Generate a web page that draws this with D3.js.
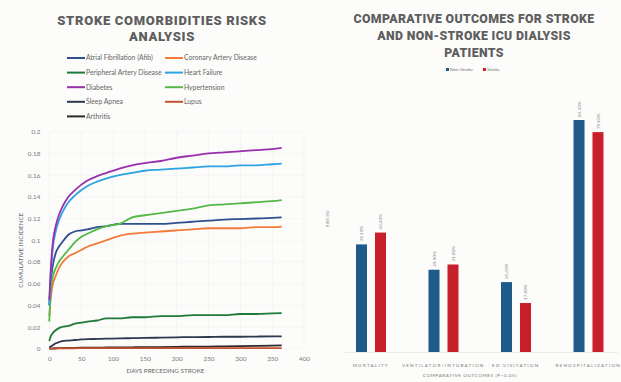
<!DOCTYPE html>
<html><head><meta charset="utf-8">
<script src="https://cdn.jsdelivr.net/npm/d3@7"></script>
<style>
html,body{margin:0;padding:0;background:#fcfcfb;}
svg{display:block;font-family:Lato,"Open Sans",sans-serif;}
</style></head>
<body>
<svg id="c" width="621" height="382"></svg>
<script>
// ---------- Left chart data ----------
const days = [0,2,5,10,15,20,30,40,50,60,75,90,110,130,150,175,200,225,250,275,300,325,350,365];
const seriesNames = ["Atrial Fibrillation (Afib)","Coronary Artery Disease","Peripheral Artery Disease","Heart Failure","Diabetes","Hypertension","Sleep Apnea","Lupus","Arthritis"];
const seriesColors = ["#2f4f8f","#f47a3a","#1f7a3a","#2ea3e3","#9a2fae","#55b948","#2d3950","#c4532d","#2a2a2a"];
const afib = [0.04,0.06,0.075,0.088,0.094,0.098,0.105,0.108,0.109,0.110,0.112,0.113,0.115,0.115,0.115,0.115,0.116,0.117,0.118,0.119,0.1195,0.120,0.1205,0.121];
const cad = [0.03,0.045,0.058,0.067,0.074,0.079,0.085,0.088,0.091,0.094,0.097,0.100,0.104,0.106,0.107,0.108,0.109,0.110,0.111,0.111,0.111,0.112,0.112,0.1125];
const pad = [0.007,0.011,0.014,0.017,0.019,0.020,0.021,0.023,0.024,0.025,0.026,0.028,0.028,0.029,0.029,0.030,0.030,0.031,0.031,0.031,0.032,0.032,0.0325,0.0328];
const hf = [0.04,0.065,0.09,0.108,0.118,0.125,0.135,0.141,0.146,0.150,0.154,0.157,0.160,0.162,0.164,0.165,0.166,0.167,0.168,0.168,0.169,0.169,0.170,0.1705];
const diabetes = [0.045,0.07,0.095,0.113,0.123,0.130,0.140,0.146,0.151,0.155,0.159,0.162,0.166,0.169,0.171,0.173,0.176,0.178,0.180,0.181,0.182,0.183,0.184,0.185];
const hypertension = [0.025,0.05,0.065,0.074,0.080,0.084,0.091,0.098,0.103,0.106,0.110,0.113,0.115,0.121,0.123,0.125,0.127,0.129,0.132,0.133,0.134,0.135,0.136,0.137];
const sleepApnea = [0.001,0.002,0.003,0.005,0.006,0.007,0.0075,0.008,0.0085,0.0088,0.009,0.0092,0.0095,0.0097,0.0099,0.0102,0.0105,0.0107,0.0108,0.011,0.011,0.0112,0.0113,0.0114];
const lupus = [0,0,0,0.0002,0.0003,0.0003,0.0004,0.0004,0.0005,0.0005,0.0005,0.0005,0.0005,0.0005,0.0005,0.0005,0.0005,0.0006,0.0006,0.0006,0.0006,0.0006,0.0006,0.0006];
const arthritis = [0,0,0.0002,0.0004,0.0005,0.0006,0.0007,0.0008,0.0009,0.001,0.001,0.0011,0.0012,0.0013,0.0014,0.0015,0.0017,0.0019,0.002,0.0022,0.0024,0.0026,0.0028,0.003];
const seriesValues = [afib,cad,pad,hf,diabetes,hypertension,sleepApnea,lupus,arthritis];
const yTicksLeft = [0,0.02,0.04,0.06,0.08,0.1,0.12,0.14,0.16,0.18,0.2];
const xTicksLeft = [0,50,100,150,200,250,300,350,400];

// ---------- Right chart data ----------
const outcomes = ["MORTALITY","VENTILATOR/INTUBATION","ED VISITATION","REHOSPITALIZATION"];
const groups = ["Non-Stroke","Stroke"];
const groupColors = ["#1f5b8a","#c8202a"];
const nonStroke = [39.1, 29.9, 25.4, 84.3];
const stroke = [43.4, 31.8, 17.8, 79.9];

const svg = d3.select("#c");

// ================= LEFT =================
const title1 = ["STROKE COMORBIDITIES RISKS","ANALYSIS"];
svg.append("g").selectAll("text").data(title1).join("text")
  .attr("x",162).attr("y",(d,i)=>25+i*16).attr("text-anchor","middle")
  .attr("font-family","Roboto").attr("font-weight",900).attr("font-size",13)
  .attr("letter-spacing",0.7).attr("fill","#5e5e5e").text(d=>d);

// legend
const leg = svg.append("g");
seriesNames.forEach((n,i)=>{
  const col = i%2, row = Math.floor(i/2);
  const x = 67 + col*98, y = 58 + row*14.6;
  leg.append("line").attr("x1",x).attr("x2",x+18).attr("y1",y).attr("y2",y)
    .attr("stroke",seriesColors[i]).attr("stroke-width",2);
  leg.append("text").attr("x",x+19).attr("y",y+2.3).attr("font-size",6.8)
    .attr("fill","#666").text(n);
});

const xL = d3.scaleLinear().domain([0,400]).range([49.3,304]);
const yL = d3.scaleLinear().domain([0,0.2]).range([348.7,131.7]);

const gridL = svg.append("g");
gridL.selectAll("line.v").data(xTicksLeft).join("line")
  .attr("x1",d=>xL(d)).attr("x2",d=>xL(d)).attr("y1",yL(0.2)).attr("y2",yL(0))
  .attr("stroke","#f1f1f1").attr("stroke-width",0.8);
gridL.selectAll("line.h").data(yTicksLeft).join("line")
  .attr("x1",xL(0)).attr("x2",xL(400)).attr("y1",d=>yL(d)).attr("y2",d=>yL(d))
  .attr("stroke","#f4f4f4").attr("stroke-width",0.8);

const yAxL = svg.append("g").attr("transform",`translate(${xL(0)-6},0)`)
  .call(d3.axisLeft(yL).tickValues(yTicksLeft).tickSize(0).tickFormat(d=>d===0?"0":d3.format("~g")(d)));
yAxL.select(".domain").remove();
yAxL.selectAll("text").attr("font-size",6.3).attr("fill","#777").attr("font-family","Lato");

const xAxL = svg.append("g").attr("transform",`translate(0,${yL(0)+5})`)
  .call(d3.axisBottom(xL).tickValues(xTicksLeft).tickSize(0));
xAxL.select(".domain").remove();
xAxL.selectAll("text").attr("font-size",6.3).attr("fill","#777").attr("font-family","Lato");

svg.append("text").attr("x",(xL(0)+xL(365))/2).attr("y",373).attr("text-anchor","middle")
  .attr("font-size",6.3).attr("fill","#666").text("DAYS PRECEDING STROKE");
svg.append("text").attr("transform",`translate(23,${(yL(0)+yL(0.2))/2+10}) rotate(-90)`)
  .attr("text-anchor","middle").attr("font-size",6.3).attr("fill","#666").text("CUMULATIVE INCIDENCE");

const lineGen = d3.line().x((d,i)=>xL(days[i])).y(d=>yL(d)).curve(d3.curveMonotoneX);
const drawOrder = [8,7,6,2,1,0,5,3,4];
svg.append("g").selectAll("path").data(drawOrder).join("path")
  .attr("d",i=>lineGen(seriesValues[i])).attr("fill","none")
  .attr("stroke",i=>seriesColors[i]).attr("stroke-width",1.8);

// ================= RIGHT =================
const title2 = ["COMPARATIVE OUTCOMES FOR STROKE","AND NON-STROKE ICU DIALYSIS","PATIENTS"];
svg.append("g").selectAll("text").data(title2).join("text")
  .attr("x",474).attr("y",(d,i)=>23+i*17).attr("text-anchor","middle")
  .attr("font-family","Roboto").attr("font-weight",900).attr("font-size",12.3)
  .attr("letter-spacing",0.35).attr("fill","#5e5e5e").text(d=>d);

// legend
const leg2 = svg.append("g");
groups.forEach((g,i)=>{
  const x = 446 + i*37;
  leg2.append("rect").attr("x",x).attr("y",68).attr("width",3).attr("height",3).attr("fill",groupColors[i]);
  leg2.append("text").attr("x",x+4).attr("y",71).attr("font-size",4.6).attr("fill","#777").text(g);
});

const x0 = d3.scaleBand().domain(outcomes).range([334.5,624.5]);
const x1 = d3.scaleBand().domain(groups).range([21.5,51.5]).paddingInner(0.42);
const yR = d3.scaleLinear().domain([0,100]).range([352,352-275.2]);

svg.append("line").attr("x1",345).attr("x2",618).attr("y1",yR(0)+0.5).attr("y2",yR(0)+0.5)
  .attr("stroke","#e6e6e6").attr("stroke-width",0.8);

const rows = outcomes.map((o,i)=>({o, vals:[nonStroke[i],stroke[i]]}));
const gR = svg.append("g").selectAll("g").data(rows).join("g")
  .attr("transform",d=>`translate(${x0(d.o)},0)`);
gR.selectAll("rect").data(d=>d.vals.map((v,j)=>({g:groups[j],v,j}))).join("rect")
  .attr("x",d=>x1(d.g)).attr("width",x1.bandwidth())
  .attr("y",d=>yR(d.v)).attr("height",d=>yR(0)-yR(d.v))
  .attr("fill",d=>groupColors[d.j]);
gR.selectAll("text").data(d=>d.vals.map((v,j)=>({g:groups[j],v,j}))).join("text")
  .attr("transform",d=>`translate(${x1(d.g)+x1.bandwidth()/2+1.6},${yR(d.v)-3}) rotate(-90)`)
  .attr("font-size",4.6).attr("fill","#888").text(d=>d3.format(".2f")(d.v)+"%");

svg.append("g").selectAll("text").data(outcomes).join("text")
  .attr("x",d=>x0(d)+x0.bandwidth()/2).attr("y",367).attr("text-anchor","middle")
  .attr("font-size",4.6).attr("letter-spacing",1.2).attr("fill","#777").text(d=>d);
svg.append("text").attr("x",470).attr("y",377).attr("text-anchor","middle")
  .attr("font-size",4.6).attr("letter-spacing",0.6).attr("fill","#777").text("COMPARATIVE OUTCOMES (P<0.05)");
svg.append("text").attr("transform","translate(329,219) rotate(-90)").attr("text-anchor","middle")
  .attr("font-size",4.6).attr("fill","#888").text("RISK (%)");
</script>
</body></html>
